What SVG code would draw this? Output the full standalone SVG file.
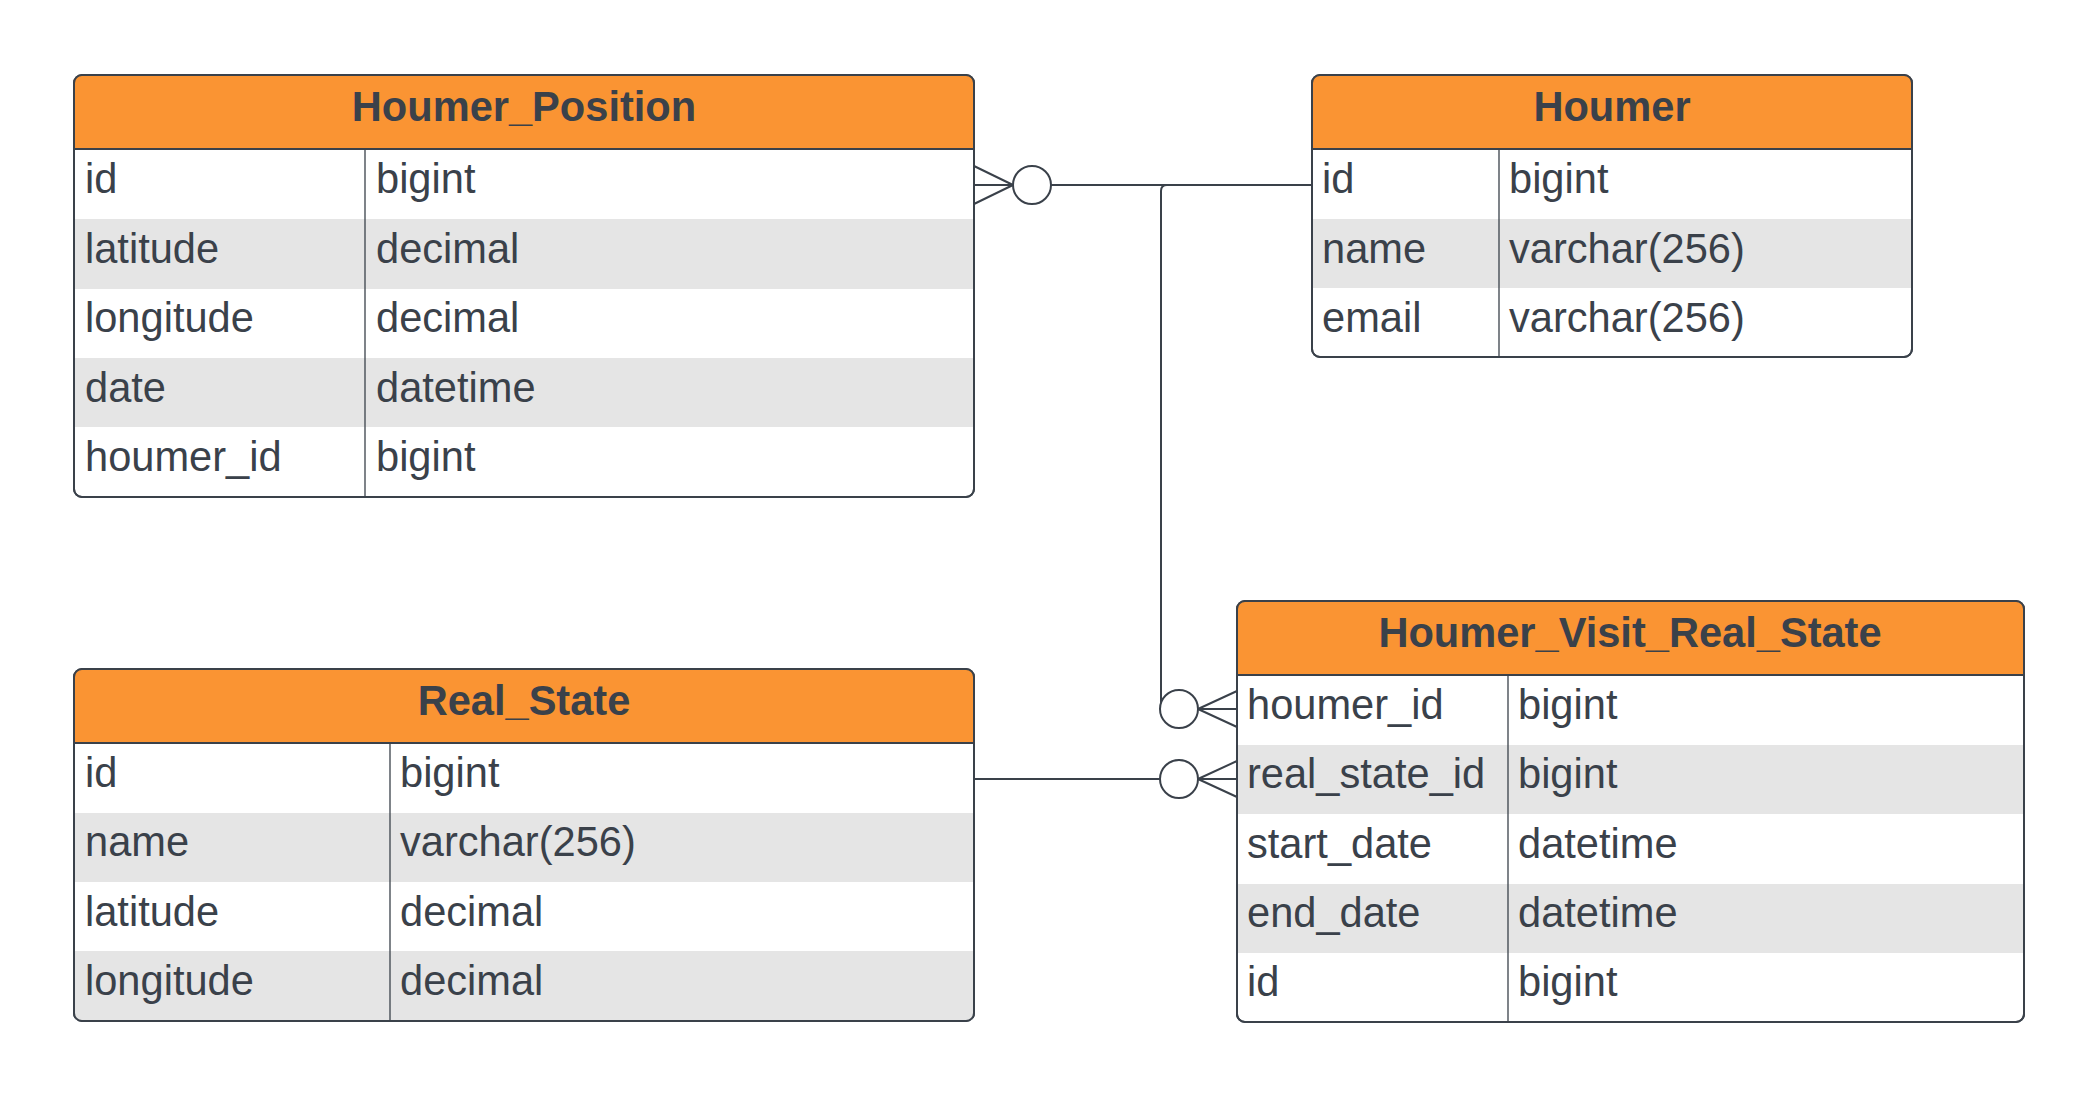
<svg xmlns="http://www.w3.org/2000/svg" width="2100" height="1097" viewBox="0 0 2100 1097">
<style>
.frame{fill:#ffffff;stroke:#3a414a;stroke-width:2}
.hdr{fill:#fa9433}
.gray{fill:#e5e5e5}
.sep{stroke:#3a414a;stroke-width:2}
.col{stroke:#3a414a;stroke-width:1.3}
.title{font-family:"Liberation Sans",Arial,sans-serif;font-weight:bold;font-size:41.6px;fill:#3a414a;text-anchor:middle}
.cell{font-family:"Liberation Sans",Arial,sans-serif;font-size:41.6px;fill:#3a414a}
.conn{fill:none;stroke:#3a414a;stroke-width:2}
.circ{fill:#ffffff;stroke:#3a414a;stroke-width:2}
</style>
<rect width="2100" height="1097" fill="#ffffff"/>

<g id="houmer_position">
  <rect class="frame" x="74" y="75" width="900" height="422" rx="8"/>
  <path class="hdr" d="M82,75 H966 Q974,75 974,83 V149 H74 V83 Q74,75 82,75 Z"/>
  <rect class="gray" x="75" y="219" width="898" height="70"/>
  <rect class="gray" x="75" y="358" width="898" height="69"/>
  <rect x="74" y="75" width="900" height="422" rx="8" fill="none" stroke="#3a414a" stroke-width="2"/>
  <line class="sep" x1="74" y1="149" x2="974" y2="149"/>
  <line class="col" x1="365" y1="149" x2="365" y2="497"/>
  <text class="title" x="524" y="121">Houmer_Position</text>
  <text class="cell" x="85" y="193">id</text><text class="cell" x="376" y="193">bigint</text>
  <text class="cell" x="85" y="263">latitude</text><text class="cell" x="376" y="263">decimal</text>
  <text class="cell" x="85" y="332">longitude</text><text class="cell" x="376" y="332">decimal</text>
  <text class="cell" x="85" y="402">date</text><text class="cell" x="376" y="402">datetime</text>
  <text class="cell" x="85" y="471">houmer_id</text><text class="cell" x="376" y="471">bigint</text>
</g>

<g id="houmer">
  <rect class="frame" x="1312" y="75" width="600" height="282" rx="8"/>
  <path class="hdr" d="M1320,75 H1904 Q1912,75 1912,83 V149 H1312 V83 Q1312,75 1320,75 Z"/>
  <rect class="gray" x="1313" y="219" width="598" height="69"/>
  <rect x="1312" y="75" width="600" height="282" rx="8" fill="none" stroke="#3a414a" stroke-width="2"/>
  <line class="sep" x1="1312" y1="149" x2="1912" y2="149"/>
  <line class="col" x1="1499" y1="149" x2="1499" y2="357"/>
  <text class="title" x="1612" y="121">Houmer</text>
  <text class="cell" x="1322" y="193">id</text><text class="cell" x="1509" y="193">bigint</text>
  <text class="cell" x="1322" y="263">name</text><text class="cell" x="1509" y="263">varchar(256)</text>
  <text class="cell" x="1322" y="332">email</text><text class="cell" x="1509" y="332">varchar(256)</text>
</g>

<g id="real_state">
  <rect class="frame" x="74" y="669" width="900" height="352" rx="8"/>
  <path class="hdr" d="M82,669 H966 Q974,669 974,677 V743 H74 V677 Q74,669 82,669 Z"/>
  <rect class="gray" x="75" y="813" width="898" height="69"/>
  <rect class="gray" x="75" y="951" width="898" height="69"/>
  <rect x="74" y="669" width="900" height="352" rx="8" fill="none" stroke="#3a414a" stroke-width="2"/>
  <line class="sep" x1="74" y1="743" x2="974" y2="743"/>
  <line class="col" x1="390" y1="743" x2="390" y2="1021"/>
  <text class="title" x="524" y="715">Real_State</text>
  <text class="cell" x="85" y="787">id</text><text class="cell" x="400" y="787">bigint</text>
  <text class="cell" x="85" y="856">name</text><text class="cell" x="400" y="856">varchar(256)</text>
  <text class="cell" x="85" y="926">latitude</text><text class="cell" x="400" y="926">decimal</text>
  <text class="cell" x="85" y="995">longitude</text><text class="cell" x="400" y="995">decimal</text>
</g>

<g id="houmer_visit_real_state">
  <rect class="frame" x="1237" y="601" width="787" height="421" rx="8"/>
  <path class="hdr" d="M1245,601 H2016 Q2024,601 2024,609 V675 H1237 V609 Q1237,601 1245,601 Z"/>
  <rect class="gray" x="1238" y="745" width="785" height="69"/>
  <rect class="gray" x="1238" y="884" width="785" height="69"/>
  <rect x="1237" y="601" width="787" height="421" rx="8" fill="none" stroke="#3a414a" stroke-width="2"/>
  <line class="sep" x1="1237" y1="675" x2="2024" y2="675"/>
  <line class="col" x1="1508" y1="675" x2="1508" y2="1022"/>
  <text class="title" x="1630" y="647">Houmer_Visit_Real_State</text>
  <text class="cell" x="1247" y="719">houmer_id</text><text class="cell" x="1518" y="719">bigint</text>
  <text class="cell" x="1247" y="788">real_state_id</text><text class="cell" x="1518" y="788">bigint</text>
  <text class="cell" x="1247" y="858">start_date</text><text class="cell" x="1518" y="858">datetime</text>
  <text class="cell" x="1247" y="927">end_date</text><text class="cell" x="1518" y="927">datetime</text>
  <text class="cell" x="1247" y="996">id</text><text class="cell" x="1518" y="996">bigint</text>
</g>

<g id="connectors">
  <!-- Houmer_Position.houmer_id many-optional to Houmer.id -->
  <path class="conn" d="M1051,185 H1312"/>
  <path class="conn" d="M974,166 L1013,185 M974,185 H1013 M974,204 L1013,185"/>
  <circle class="circ" cx="1032" cy="185" r="19"/>
  <!-- Houmer.id to Houmer_Visit_Real_State.houmer_id -->
  <path class="conn" d="M1312,185 H1167 Q1161,185 1161,191 V709"/>
  <path class="conn" d="M1237,691 L1198,709 M1237,709 H1198 M1237,727 L1198,709"/>
  <circle class="circ" cx="1179" cy="709" r="19"/>
  <!-- Real_State.id to Houmer_Visit_Real_State.real_state_id -->
  <path class="conn" d="M974,779 H1160"/>
  <path class="conn" d="M1237,761 L1198,779 M1237,779 H1198 M1237,797 L1198,779"/>
  <circle class="circ" cx="1179" cy="779" r="19"/>
</g>
</svg>
